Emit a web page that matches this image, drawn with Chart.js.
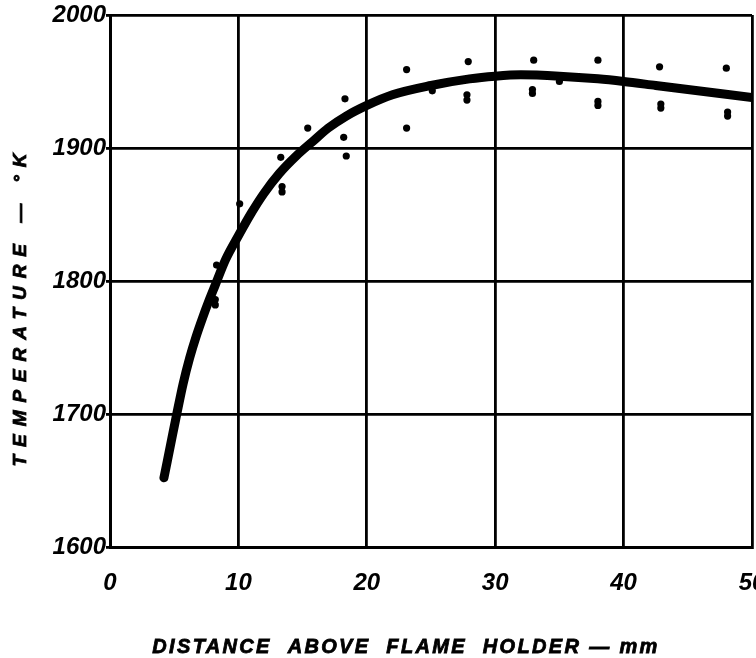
<!DOCTYPE html>
<html>
<head>
<meta charset="utf-8">
<script src="https://cdn.jsdelivr.net/npm/chart.js@4"></script>
<style>
  html, body { margin: 0; padding: 0; background: #fff; }
  #wrap { width: 756px; height: 658px; }
</style>
</head>
<body>
<div id="wrap"><canvas id="tempChart" width="756" height="658"></canvas></div>
<script>
// smooth fitted curve (distance mm, temperature K)
const curveX = [4.2, 4.7, 5.2, 5.7, 6.2, 6.7, 7.2, 7.7, 8.2, 9.0, 10.0, 11.0, 12.0, 13.2, 14.5, 15.8, 17.0, 18.4, 20.0, 22.0, 25.0, 28.0, 30.0, 32.0, 35.0, 38.0, 40.0, 42.5, 45.0, 47.5, 50.0];
const curveY = [1652, 1676, 1700, 1723, 1742, 1758, 1772, 1785, 1797, 1816, 1834, 1851, 1866, 1881, 1894, 1905, 1915, 1924, 1932, 1940, 1947, 1952, 1954, 1955, 1954, 1952, 1950, 1947, 1944, 1941, 1938];

// measured points
const pointX = [8.2, 8.2, 8.3, 10.1, 13.3, 13.4, 13.4, 15.4, 18.3, 18.2, 18.4, 23.1, 23.1, 25.1, 27.9, 27.8, 27.8, 33.0, 32.9, 32.9, 35.0, 38.0, 38.0, 38.0, 42.8, 42.9, 42.9, 48.0, 48.1, 48.1];
const pointY = [1786, 1782, 1812, 1858, 1893, 1871, 1867, 1915, 1937, 1908, 1894, 1959, 1915, 1943, 1965, 1940, 1936, 1966, 1944, 1941, 1950, 1966, 1935, 1932, 1961, 1933, 1930, 1960, 1927, 1924];

const xTicks = [0, 10, 20, 30, 40, 50];
const yTicks = [1600, 1700, 1800, 1900, 2000];

const xTitle = "DISTANCE  ABOVE  FLAME  HOLDER — mm";
const yTitle = "TEMPERATURE — °K";

const tickFont = { family: "'Liberation Sans', Arial, sans-serif", size: 24, weight: "bold", style: "italic" };

// draws the hand-lettered, widely spaced axis titles
const spacedTitles = {
  id: "spacedTitles",
  afterDraw(chart) {
    const c = chart.ctx;
    function spaced(text, x, y, width, size, rot) {
      c.save();
      c.translate(x, y);
      c.rotate(rot);
      c.font = "italic bold " + size + "px 'Liberation Sans', Arial, sans-serif";
      c.fillStyle = "#000";
      c.strokeStyle = "#000";
      c.lineWidth = 0.8;
      c.textAlign = "center";
      c.textBaseline = "middle";
      const w = c.measureText(text).width;
      c.letterSpacing = ((width - w) / (text.length - 1)).toFixed(2) + "px";
      c.fillText(text, 0, 0);
      c.strokeText(text, 0, 0);
      c.restore();
    }
    spaced(xTitle, 406, 647, 505, 20, 0);
    spaced(yTitle, 21, 306, 313, 19, -Math.PI / 2);
  }
};

const chart = new Chart(document.getElementById("tempChart").getContext("2d"), {
  type: "scatter",
  data: {
    datasets: [
      {
        type: "line",
        label: "curve",
        data: curveX.map((x, i) => ({ x: x, y: curveY[i] })),
        borderColor: "#000",
        borderWidth: 9,
        borderCapStyle: "round",
        borderJoinStyle: "round",
        cubicInterpolationMode: "monotone",
        pointRadius: 0,
        fill: false
      },
      {
        label: "points",
        data: pointX.map((x, i) => ({ x: x, y: pointY[i] })),
        backgroundColor: "#000",
        borderColor: "#000",
        pointRadius: 3.6,
        borderWidth: 0
      }
    ]
  },
  options: {
    responsive: false,
    animation: false,
    layout: { padding: { top: 15, right: 4, left: 0, bottom: 0 } },
    plugins: { legend: { display: false }, tooltip: { enabled: false } },
    scales: {
      x: {
        type: "linear",
        min: 0,
        max: 50,
        afterBuildTicks: (s) => { s.ticks = xTicks.map((v) => ({ value: v })); },
        afterFit: (s) => { s.height = 111; s.paddingLeft = 0; s.paddingRight = 0; },
        grid: { color: "#000", lineWidth: 2.8, drawTicks: false },
        border: { color: "#000", width: 3 },
        ticks: { color: "#000", font: tickFont, padding: 22, maxRotation: 0, autoSkip: false, callback: (v) => String(v) }
      },
      y: {
        type: "linear",
        min: 1600,
        max: 2000,
        afterBuildTicks: (s) => { s.ticks = yTicks.map((v) => ({ value: v })); },
        afterFit: (s) => { s.width = 110; s.paddingTop = 0; s.paddingBottom = 0; },
        grid: { color: "#000", lineWidth: 2.8, tickLength: 4 },
        border: { color: "#000", width: 3 },
        ticks: { color: "#000", font: tickFont, padding: 0, callback: (v) => String(v) }
      }
    }
  },
  plugins: [spacedTitles]
});
</script>
</body>
</html>
